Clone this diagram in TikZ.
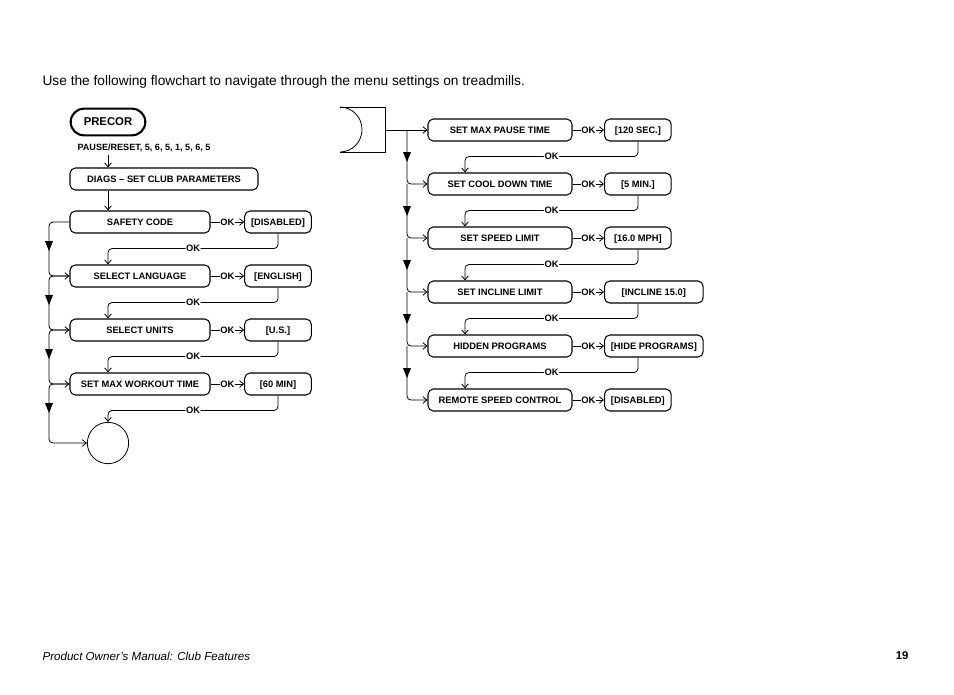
\documentclass[tikz,border=0pt]{standalone}
\usepackage{fontspec}
\setmainfont{Liberation Sans}
\usetikzlibrary{arrows.meta}
\begin{document}
\begin{tikzpicture}[x=0.75pt,y=-0.75pt,
  line width=0.8pt,
  box/.style={draw,rounded corners=4pt,minimum height=16.5pt,inner sep=1pt,text height=5pt,text depth=0.5pt,font=\fontsize{7}{8}\selectfont\bfseries},
  val/.style={box},
  lbl/.style={font=\fontsize{7}{8}\selectfont\bfseries,inner sep=0.5pt,fill=white},
  arr/.style={-{Straight Barb[length=3pt,width=5pt]},line width=0.6pt},
  ln/.style={line width=0.6pt},
  tri/.style={fill=black}]
\useasboundingbox (0,0) rectangle (954,694);
\node[anchor=west,inner sep=0pt,font=\fontsize{10.3}{12}\selectfont] (title) at (42,82) {Use the following flowchart to navigate through the menu settings on treadmills.};
\node[anchor=west,inner sep=0pt,font=\fontsize{8.7}{10}\selectfont\itshape] (foot) at (42,656) {Product Owner's Manual: Club Features};
\node[anchor=east,inner sep=0pt,font=\fontsize{8.5}{10}\selectfont\bfseries] (pg) at (909,656) {19};
% left
\node[draw,rounded corners=10pt,line width=1.6pt,minimum width=56pt,minimum height=20pt,font=\fontsize{8.5}{9}\selectfont\bfseries] (precor) at (108,122) {PRECOR};
\node[font=\fontsize{6.8}{7}\selectfont\bfseries,inner sep=0pt] (seq) at (144,148) {PAUSE/RESET, 5, 6, 5, 1, 5, 6, 5};
\node[box,minimum width=141pt] (diag) at (164,179) {DIAGS -- SET CLUB PARAMETERS};
\draw[arr] (seq.south -| precor) ++(0,2) -- (diag.north -| precor);
\node[circle,draw,ln,minimum size=31pt] (end) at (108,443) {};
\foreach \i/\y/\t/\v in {1/222/SAFETY CODE/[DISABLED],2/276/SELECT LANGUAGE/[ENGLISH],3/330/SELECT UNITS/[U.S.],4/384/SET MAX WORKOUT TIME/[60 MIN]}{
  \node[box,minimum width=105pt] (L\i) at (140,\y) {\t};
  \node[val,minimum width=50pt] (LV\i) at (278,\y) {\v};
  \draw[arr] (L\i.east) -- node[lbl]{OK} (LV\i.west);
}
\draw[arr] (diag.south -| precor) -- (L1.north -| precor);
\foreach \i/\j in {1/2,2/3,3/4}{
  \draw[arr,rounded corners=3pt] (LV\i.south) -- ++(0,15) -| node[lbl,pos=0.25]{OK} (L\j.north -| precor);
  \draw[arr,rounded corners=3pt] (L\i.west) -| (49,0 |- L\j) -- (L\j.west);
  \path[tri] (49,0 |- L\i) ++(-4,19) -- ++(8,0) -- ++(-4,10) -- cycle;
}
\draw[arr,rounded corners=3pt] (LV4.south) -- ++(0,15) -| node[lbl,pos=0.25]{OK} (end.north);
\draw[arr,rounded corners=3pt] (L4.west) -| (49,0 |- end) -- (end.west);
\path[tri] (49,0 |- L4) ++(-4,19) -- ++(8,0) -- ++(-4,10) -- cycle;
% right
\coordinate (cin) at (385,130);
\draw[ln] (340,107) -- (385,107) -- (385,152) -- (340,152);
\draw[ln] (340,107) arc[start angle=90,end angle=-90,x radius=22,y radius=-22.5];
\foreach \i/\y/\t/\v/\w in {1/130/SET MAX PAUSE TIME/[120 SEC.]/50,2/184/SET COOL DOWN TIME/[5 MIN.]/50,3/238/SET SPEED LIMIT/[16.0 MPH]/50,4/292/SET INCLINE LIMIT/[INCLINE 15.0]/74,5/346/HIDDEN PROGRAMS/[HIDE PROGRAMS]/74,6/400/REMOTE SPEED CONTROL/[DISABLED]/50}{
  \node[box,minimum width=108pt] (R\i) at (500,\y) {\t};
  \node[val,minimum width=\w pt,anchor=west] (RV\i) at (604,\y) {\v};
  \draw[arr] (R\i.east) -- node[lbl]{OK} (RV\i.west);
}
\draw[arr] (cin) -- (R1.west);
\foreach \i/\j in {1/2,2/3,3/4,4/5,5/6}{
  \draw[arr,rounded corners=3pt] (RV\i.south -| 638,0) -- ++(0,15) -| node[lbl,pos=0.25]{OK} (R\j.north -| 465,0);
  \draw[arr,rounded corners=3pt] (407,0 |- R\i) -- (407,0 |- R\j) -- (R\j.west);
  \path[tri] (407,0 |- R\i) ++(-4,22) -- ++(8,0) -- ++(-4,10) -- cycle;
}
\end{tikzpicture}
\end{document}
